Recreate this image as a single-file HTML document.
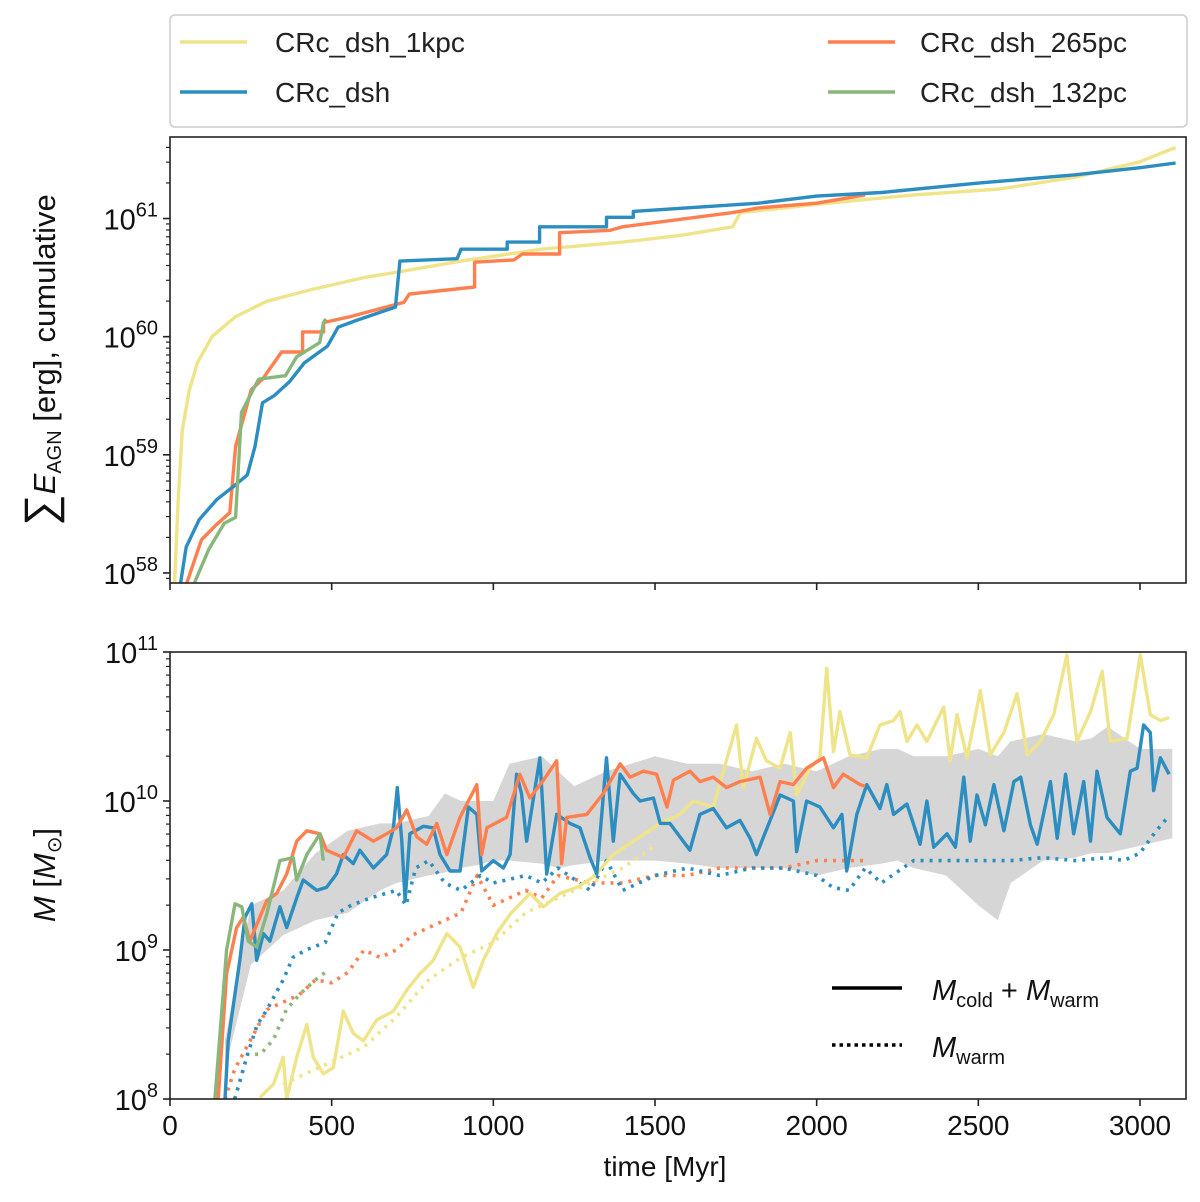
<!DOCTYPE html>
<html><head><meta charset="utf-8">
<style>
html,body{margin:0;padding:0;background:#fff;}
svg{display:block;font-family:"Liberation Sans","DejaVu Sans",sans-serif;}
</style></head>
<body>
<svg id="chart" width="1200" height="1202" viewBox="0 0 1200 1202" xmlns="http://www.w3.org/2000/svg">
  <g>
    <rect x="170" y="15" width="1017" height="112" rx="5" fill="#fff" stroke="#ccc" stroke-width="1.5"/>
    <g>
      <line x1="180" y1="42" x2="247" y2="42" stroke="#efe48a" stroke-width="3.5"/>
      <text x="275" y="52" font-size="28" fill="#222">CRc_dsh_1kpc</text>
    </g>
    <g>
      <line x1="180" y1="92" x2="247" y2="92" stroke="#2c8dc0" stroke-width="3.5"/>
      <text x="275" y="102" font-size="28" fill="#222">CRc_dsh</text>
    </g>
    <g>
      <line x1="828" y1="42" x2="895" y2="42" stroke="#ff7f4f" stroke-width="3.5"/>
      <text x="920" y="52" font-size="28" fill="#222">CRc_dsh_265pc</text>
    </g>
    <g>
      <line x1="828" y1="92" x2="895" y2="92" stroke="#88b77b" stroke-width="3.5"/>
      <text x="920" y="102" font-size="28" fill="#222">CRc_dsh_132pc</text>
    </g>
  </g>
  <g id="topPanel"></g>
  <g id="botPanel"></g>
  <text x="665" y="1176" font-size="28" text-anchor="middle" fill="#111">time [Myr]</text>
  <text transform="translate(55,360) rotate(-90)" font-size="31" text-anchor="middle" fill="#111"><tspan font-size="44">∑</tspan><tspan font-style="italic">E</tspan><tspan font-size="20" dy="6">AGN</tspan><tspan dy="-6"> [erg], cumulative</tspan></text>
  <text transform="translate(55,875) rotate(-90)" font-size="31" text-anchor="middle" fill="#111"><tspan font-style="italic">M</tspan> [<tspan font-style="italic">M</tspan><tspan font-size="20" dy="6">⊙</tspan><tspan dy="-6">]</tspan></text>
  <g>
    <line x1="832" y1="988" x2="902" y2="988" stroke="#000" stroke-width="3.5"/>
    <text x="932" y="1000" font-size="29" fill="#111"><tspan font-style="italic">M</tspan><tspan font-size="20" dy="7">cold</tspan><tspan dy="-7"> + </tspan><tspan font-style="italic">M</tspan><tspan font-size="20" dy="7">warm</tspan></text>
    <line x1="832" y1="1045" x2="902" y2="1045" stroke="#000" stroke-width="3.5" stroke-dasharray="3.5,4"/>
    <text x="932" y="1057" font-size="29" fill="#111"><tspan font-style="italic">M</tspan><tspan font-size="20" dy="7">warm</tspan></text>
  </g>
</svg>
<script>
// ---- x ticks
const xTicks = [0, 500, 1000, 1500, 2000, 2500, 3000];
// ---- top panel: cumulative AGN energy (log10 erg)
const yTicksTop = [58, 59, 60, 61];
const t1kpcTop = [14, 25, 38, 60, 85, 130, 203, 300, 440, 600, 711, 900, 1149, 1400, 1586, 1740, 1764, 2000, 2300, 2566, 2800, 3000, 3090, 3110];
const e1kpcTop = [57.9, 58.6, 59.21, 59.55, 59.78, 60.0, 60.17, 60.3, 60.4, 60.5, 60.55, 60.64, 60.74, 60.8, 60.86, 60.93, 61.05, 61.12, 61.2, 61.25, 61.35, 61.48, 61.58, 61.6];
const tDshTop = [32, 50, 90, 144, 200, 239, 263, 286, 322, 370, 416, 487, 520, 579, 697, 711, 888, 900, 1043, 1043, 1143, 1143, 1350, 1350, 1433, 1433, 1820, 2000, 2200, 2500, 2800, 3000, 3110];
const eDshTop = [57.9, 58.22, 58.45, 58.62, 58.74, 58.83, 59.07, 59.44, 59.5, 59.62, 59.78, 59.92, 60.08, 60.14, 60.25, 60.64, 60.66, 60.74, 60.74, 60.8, 60.8, 60.93, 60.93, 61.01, 61.01, 61.06, 61.13, 61.19, 61.22, 61.3, 61.37, 61.43, 61.47];
const t265Top = [50, 97, 140, 185, 203, 251, 286, 345, 410, 410, 475, 475, 558, 640, 723, 740, 942, 942, 1064, 1090, 1205, 1205, 1362, 1400, 1740, 1820, 2000, 2150];
const e265Top = [57.9, 58.28, 58.4, 58.51, 59.07, 59.55, 59.64, 59.87, 59.87, 60.04, 60.04, 60.12, 60.17, 60.23, 60.29, 60.36, 60.42, 60.63, 60.65, 60.7, 60.7, 60.88, 60.9, 60.93, 61.05, 61.09, 61.13, 61.2];
const t132Top = [73, 120, 168, 203, 221, 274, 357, 392, 463, 475, 482];
const e132Top = [57.9, 58.2, 58.42, 58.47, 59.36, 59.64, 59.67, 59.83, 59.95, 60.12, 60.15];
// ---- bottom panel: gas mass (log10 Msun)
const yTicksBot = [8, 9, 10, 11];
const tDshSolid = [170,180,216,232,253,268,289,309,340,361,392,412,454,484,515,536,567,587,629,670,691,703,717,727,742,784,814,835,866,897,923,949,964,1000,1031,1052,1072,1087,1103,1144,1165,1196,1237,1268,1299,1320,1350,1371,1392,1433,1454,1495,1516,1546,1608,1639,1680,1721,1763,1794,1814,1856,1887,1928,1938,1969,2010,2052,2078,2093,2124,2155,2196,2217,2238,2279,2320,2341,2362,2403,2429,2455,2475,2496,2522,2548,2579,2610,2631,2661,2682,2723,2744,2770,2795,2826,2847,2867,2898,2939,2970,2991,3011,3032,3042,3063,3090];
const mDshSolid = [8.0,8.39,8.93,9.22,9.31,8.93,9.11,9.06,9.29,9.15,9.35,9.47,9.4,9.42,9.51,9.64,9.58,9.67,9.55,9.64,9.82,10.09,9.73,9.33,9.78,9.83,9.82,9.64,9.53,9.53,9.96,9.91,9.53,9.6,9.55,9.64,10.18,10.05,9.73,10.29,9.51,9.91,9.85,9.82,9.62,9.51,10.29,9.73,10.18,10.05,10.0,10.02,9.85,9.85,9.67,9.91,9.95,9.82,9.87,9.75,9.64,9.87,10.04,10.0,9.66,10.0,9.96,9.82,9.91,9.53,9.91,10.11,9.95,10.11,9.91,9.98,9.71,10.0,9.69,9.78,9.69,10.16,9.73,10.04,9.84,10.11,9.8,10.13,10.16,9.84,9.71,10.13,9.75,10.18,9.78,10.13,9.73,10.2,9.89,9.78,10.2,10.22,10.51,10.46,10.07,10.29,10.18];
const t265Solid = [149,175,206,227,247,268,299,330,361,392,423,464,484,536,577,629,670,701,732,763,794,825,856,897,949,964,980,1041,1082,1113,1155,1196,1211,1227,1289,1340,1392,1423,1464,1505,1537,1557,1608,1639,1680,1721,1763,1825,1856,1887,1928,1969,2021,2052,2082,2134,2150];
const m265Solid = [8.0,8.84,9.15,9.22,9.06,9.17,9.33,9.38,9.51,9.73,9.8,9.78,9.67,9.62,9.8,9.73,9.78,9.82,9.94,9.76,9.71,9.85,9.64,9.89,10.11,9.64,9.82,9.89,10.18,10.02,10.14,10.27,9.58,9.89,9.91,10.05,10.25,10.16,10.2,10.18,9.96,10.14,10.2,10.13,10.16,10.09,10.13,10.16,9.91,10.13,10.11,10.22,10.29,10.09,10.18,10.11,10.1];
const t1kpcSolid = [278,320,350,361,392,423,443,474,505,536,567,598,639,691,732,773,814,856,897,938,969,1010,1052,1113,1155,1206,1258,1309,1371,1433,1516,1577,1618,1680,1752,1773,1814,1845,1887,1918,1938,1979,2010,2031,2052,2072,2103,2155,2196,2238,2258,2279,2310,2341,2393,2413,2434,2465,2506,2537,2579,2620,2651,2692,2733,2774,2805,2847,2883,2908,2960,3001,3032,3063,3090];
const m1kpcSolid = [8.01,8.1,8.28,8.0,8.28,8.5,8.28,8.17,8.21,8.59,8.44,8.39,8.53,8.59,8.73,8.84,8.93,9.11,9.02,8.75,8.93,9.11,9.24,9.38,9.29,9.38,9.42,9.49,9.64,9.73,9.85,9.91,10.0,9.96,10.51,10.09,10.42,10.27,10.22,10.46,10.04,10.22,10.29,10.89,10.33,10.6,10.31,10.29,10.51,10.54,10.6,10.4,10.51,10.4,10.63,10.27,10.58,10.29,10.74,10.31,10.46,10.72,10.31,10.4,10.58,10.98,10.4,10.6,10.87,10.4,10.42,10.98,10.58,10.54,10.56];
const t132Solid = [139,175,201,222,242,268,299,340,381,392,423,464,474];
const m132Solid = [8.0,9.0,9.31,9.29,9.06,9.02,9.24,9.6,9.62,9.47,9.64,9.78,9.6];
const tDshWarm = [200,240,270,300,350,380,420,480,520,560,620,700,730,760,800,850,900,960,1000,1100,1150,1200,1300,1350,1400,1500,1600,1700,1800,1900,2000,2050,2100,2150,2200,2300,2400,2500,2600,2700,2800,2900,2950,3000,3050,3090];
const mDshWarm = [8.0,8.3,8.5,8.6,8.8,8.95,9.0,9.05,9.25,9.3,9.35,9.4,9.3,9.55,9.6,9.45,9.4,9.5,9.45,9.5,9.45,9.55,9.4,9.6,9.4,9.5,9.55,9.5,9.55,9.55,9.5,9.42,9.4,9.55,9.45,9.6,9.6,9.6,9.6,9.62,9.6,9.62,9.6,9.65,9.8,9.9];
const t265Warm = [170,200,250,300,350,400,450,500,550,600,650,700,750,800,850,900,950,1000,1050,1100,1150,1200,1300,1400,1500,1600,1700,1800,1900,2000,2100,2150];
const m265Warm = [8.0,8.2,8.4,8.6,8.65,8.7,8.8,8.78,8.85,9.0,8.95,9.0,9.1,9.15,9.2,9.25,9.5,9.3,9.35,9.4,9.35,9.5,9.45,9.45,9.5,9.5,9.55,9.55,9.55,9.6,9.6,9.6];
const t132Warm = [200,240,280,320,360,400,450,480];
const m132Warm = [8.0,8.3,8.3,8.4,8.6,8.7,8.8,8.85];
const t1kpcWarm = [350,450,600,700,800,900,1000,1100,1200,1300,1400,1500];
const m1kpcWarm = [8.1,8.2,8.35,8.55,8.8,8.95,9.05,9.25,9.35,9.45,9.55,9.7];
const tBand = [170,250,350,450,550,650,700,800,850,900,950,1000,1050,1150,1200,1250,1350,1500,1600,1700,1800,1900,2000,2100,2200,2250,2300,2400,2500,2560,2600,2700,2800,2850,2900,3000,3100];
const bandLow = [8.2,8.9,9.1,9.2,9.25,9.4,9.45,9.5,9.52,9.55,9.57,9.6,9.6,9.58,9.55,9.57,9.6,9.6,9.58,9.55,9.55,9.55,9.5,9.55,9.58,9.6,9.55,9.5,9.3,9.2,9.45,9.6,9.62,9.65,9.65,9.7,9.75];
const bandHigh = [8.4,9.3,9.4,9.65,9.8,9.85,9.85,9.9,10.05,10.0,10.0,10.0,10.25,10.3,10.2,10.1,10.2,10.3,10.25,10.25,10.2,10.25,10.2,10.3,10.35,10.35,10.3,10.3,10.35,10.3,10.4,10.45,10.4,10.42,10.5,10.35,10.35];

const NS = "http://www.w3.org/2000/svg";
const X0 = 170, X1 = 1186;
function xS(t){ return X0 + t * (970/3000); }
const pTop = {g: document.getElementById('topPanel'), y0: 137, y1: 583, vmin: 57.915, vmax: 61.69};
const pBot = {g: document.getElementById('botPanel'), y0: 652, y1: 1099, vmin: 8, vmax: 11};
function yS(p, v){ return p.y1 - (v - p.vmin) / (p.vmax - p.vmin) * (p.y1 - p.y0); }
function mk(tag, attrs, parent){
  const e = document.createElementNS(NS, tag);
  for (const k in attrs) e.setAttribute(k, attrs[k]);
  parent.appendChild(e);
  return e;
}
function clipFor(p, id){
  const defs = mk('defs', {}, p.g);
  const cp = mk('clipPath', {id: id}, defs);
  mk('rect', {x: X0, y: p.y0, width: X1 - X0, height: p.y1 - p.y0}, cp);
}
function series(p, ts, vs, color, name, dashed, clip){
  let d = '';
  for (let i = 0; i < ts.length; i++) d += (i ? 'L' : 'M') + xS(ts[i]).toFixed(1) + ',' + yS(p, vs[i]).toFixed(1);
  const el = mk('path', {d: d, fill: 'none', stroke: color, 'stroke-width': dashed ? 3.6 : 3.4, 'stroke-linejoin': 'round', 'clip-path': 'url(#' + clip + ')'}, p.g);
  if (dashed) el.setAttribute('stroke-dasharray', '3,6');
  
  
}
function axes(p, ticks, showXLabels, prefix){
  const frame = mk('rect', {x: X0, y: p.y0, width: X1 - X0, height: p.y1 - p.y0, fill: 'none', stroke: '#222', 'stroke-width': 1.6}, p.g);
  
  
  xTicks.forEach(t => {
    const x = xS(t);
    const tk = mk('line', {x1: x, x2: x, y1: p.y1, y2: p.y1 + 7, stroke: '#222', 'stroke-width': 1.6}, p.g);
    
    
    if (showXLabels){
      const lb = mk('text', {x: x, y: p.y1 + 36, 'font-size': 28, 'text-anchor': 'middle', fill: '#111'}, p.g);
      lb.textContent = String(t);
      
      
    }
  });
  const lo = Math.floor(p.vmin), hi = Math.ceil(p.vmax);
  for (let dcd = lo; dcd < hi; dcd++){
    for (let m = 2; m <= 9; m++){
      const v = dcd + Math.log10(m);
      if (v < p.vmin || v > p.vmax) continue;
      const y = yS(p, v);
      const mt = mk('line', {x1: X0 - 4, x2: X0, y1: y, y2: y, stroke: '#222', 'stroke-width': 1.2}, p.g);
      
      
    }
  }
  ticks.forEach(v => {
    const y = yS(p, v);
    const tk = mk('line', {x1: X0 - 7, x2: X0, y1: y, y2: y, stroke: '#222', 'stroke-width': 1.6}, p.g);
    
    
    const lb = mk('text', {x: X0 - 12, y: y + 11, 'font-size': 29, 'text-anchor': 'end', fill: '#111'}, p.g);
    
    
    const a = mk('tspan', {}, lb); a.textContent = '10';
    const b = mk('tspan', {dy: -13, 'font-size': 20}, lb); b.textContent = String(v);
  });
}
// top panel
clipFor(pTop, 'clipTop');
series(pTop, t1kpcTop, e1kpcTop, '#efe48a', 'line-1kpc-energy', false, 'clipTop');
series(pTop, t265Top, e265Top, '#ff7f4f', 'line-265pc-energy', false, 'clipTop');
series(pTop, tDshTop, eDshTop, '#2c8dc0', 'line-dsh-energy', false, 'clipTop');
series(pTop, t132Top, e132Top, '#88b77b', 'line-132pc-energy', false, 'clipTop');
axes(pTop, yTicksTop, false, 'top');
// bottom panel
clipFor(pBot, 'clipBot');
let bd = '';
for (let i = 0; i < tBand.length; i++) bd += (i ? 'L' : 'M') + xS(tBand[i]).toFixed(1) + ',' + yS(pBot, bandHigh[i]).toFixed(1);
for (let i = tBand.length - 1; i >= 0; i--) bd += 'L' + xS(tBand[i]).toFixed(1) + ',' + yS(pBot, bandLow[i]).toFixed(1);
const band = mk('path', {d: bd + 'Z', fill: '#d6d6d6', stroke: 'none', 'clip-path': 'url(#clipBot)'}, pBot.g);


series(pBot, t1kpcWarm, m1kpcWarm, '#efe48a', 'line-1kpc-warm', true, 'clipBot');
series(pBot, t132Warm, m132Warm, '#88b77b', 'line-132pc-warm', true, 'clipBot');
series(pBot, t265Warm, m265Warm, '#ff7f4f', 'line-265pc-warm', true, 'clipBot');
series(pBot, tDshWarm, mDshWarm, '#2c8dc0', 'line-dsh-warm', true, 'clipBot');
series(pBot, t1kpcSolid, m1kpcSolid, '#efe48a', 'line-1kpc-total', false, 'clipBot');
series(pBot, tDshSolid, mDshSolid, '#2c8dc0', 'line-dsh-total', false, 'clipBot');
series(pBot, t265Solid, m265Solid, '#ff7f4f', 'line-265pc-total', false, 'clipBot');
series(pBot, t132Solid, m132Solid, '#88b77b', 'line-132pc-total', false, 'clipBot');
axes(pBot, yTicksBot, true, 'bottom');
</script>
</body></html>
